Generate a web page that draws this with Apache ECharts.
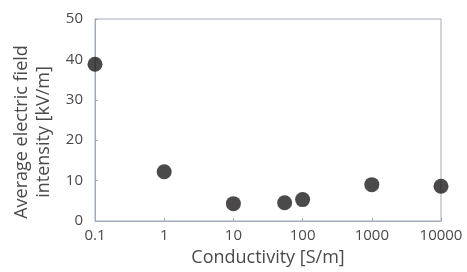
<!DOCTYPE html>
<html>
<head>
<meta charset="utf-8">
<script src="https://cdn.jsdelivr.net/npm/echarts@6/dist/echarts.min.js"></script>
<style>
html, body { margin: 0; padding: 0; background: #fff; }
#main { width: 467px; height: 272px; }
</style>
</head>
<body>
<div id="main"></div>
<script>
var conductivity = [0.1, 1, 10, 55, 100, 1000, 10000]
var fieldIntensity = [38.8, 12.2, 4.3, 4.5, 5.3, 9.0, 8.6]
var xTicks = [0.1, 1, 10, 100, 1000, 10000]

var points = []
for (var i = 0; i < conductivity.length; i++) {
	points.push([conductivity[i], fieldIntensity[i]])
}

var font = '"Open Sans", Lato, sans-serif'
var axisColor = '#a3aabb'
var textColor = '#4a4a4a'

var myChart = echarts.init(document.getElementById('main'))
var option = {
	animation : false,
	grid : {
		left : 95,
		right : 26,
		top : 19,
		bottom : 46,
		show : true,
		borderColor : axisColor,
		borderWidth : 1
	},
	xAxis : {
		type : 'log',
		logBase : 10,
		min : 0.1,
		max : 10000,
		name : 'Conductivity [S/m]',
		nameLocation : 'middle',
		nameGap : 28,
		nameTextStyle : { fontFamily : font, fontSize : 18, color : textColor },
		axisLine : { lineStyle : { color : axisColor, width : 1 } },
		axisTick : { inside : true, length : 3, lineStyle : { color : axisColor } },
		splitLine : { show : false },
		minorTick : { show : false },
		axisLabel : {
			fontFamily : font,
			fontSize : 15,
			color : textColor,
			margin : 7,
			formatter : function(v) {
				for (var k = 0; k < xTicks.length; k++) {
					if (Math.abs(v - xTicks[k]) / xTicks[k] < 1e-6) return String(xTicks[k])
				}
				return ''
			}
		}
	},
	yAxis : {
		type : 'value',
		min : 0,
		max : 50,
		interval : 10,
		name : 'Average electric field\nintensity [kV/m]',
		nameLocation : 'middle',
		nameGap : 38,
		nameTextStyle : { fontFamily : font, fontSize : 18, color : textColor, lineHeight : 22, padding : [0, 24, 0, 0] },
		axisLine : { show : true, lineStyle : { color : axisColor, width : 1 } },
		axisTick : { show : true, inside : true, length : 3, lineStyle : { color : axisColor } },
		splitLine : { show : false },
		axisLabel : { fontFamily : font, fontSize : 15, color : textColor, margin : 12 }
	},
	series : [ {
		type : 'scatter',
		symbol : 'circle',
		symbolSize : 15,
		itemStyle : { color : '#1e1c1c' },
		data : points
	} ]
}
myChart.setOption(option)
</script>
</body>
</html>
